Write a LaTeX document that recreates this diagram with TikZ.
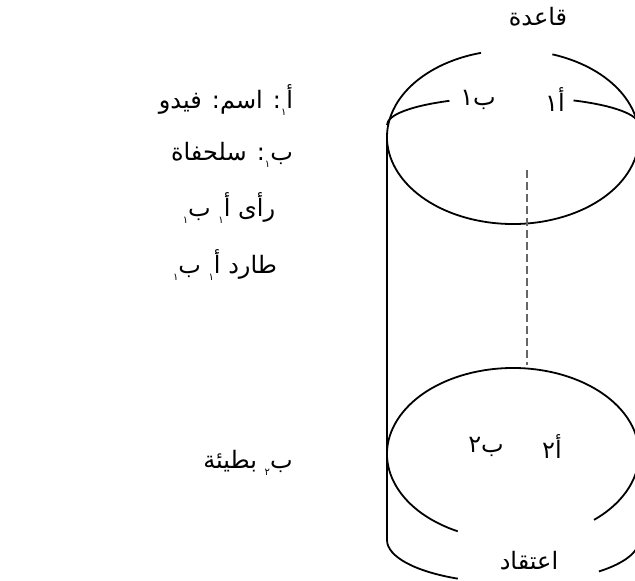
\documentclass[tikz,border=0pt]{standalone}
\usepackage{fontspec}
\newfontfamily\arabicfont[Script=Arabic]{DejaVu Sans}
\TeXXeTstate=1
\newcommand\arsub[1]{\raisebox{-0.5ex}{\fontsize{10}{10}\selectfont #1}}
\begin{document}
\begin{tikzpicture}[x=1pt,y=-1pt,
  curve/.style={line width=1.8pt, black},
  dashline/.style={line width=1.7pt, black!60, dash pattern=on 8pt off 4pt},
  artext/.style={font=\arabicfont\fontsize{24}{28}\selectfont, inner sep=0pt},
  ]
\useasboundingbox (0,0) rectangle (635,581);
\clip (0,0) rectangle (635,581);
\coordinate (topc) at (513,137);
\coordinate (innc) at (513,125);
\coordinate (botc) at (513,454);
\coordinate (basec) at (513,540);
\coordinate (vtop) at (387,137);
\coordinate (vbot) at (387,540);
\coordinate (dtop) at (527,170);
\coordinate (dbot) at (527,365);

% top face
\draw[curve] (topc) ++(-71.8:126 and 87) arc[start angle=-71.8,end angle=255.3,x radius=126,y radius=87];
\draw[curve] (innc) ++(180:126 and 28) arc[start angle=180,end angle=239.7,x radius=126,y radius=28];
\draw[curve] (innc) ++(298.7:126 and 28) arc[start angle=298.7,end angle=360,x radius=126,y radius=28];
% lower ellipse
\draw[curve] (botc) ++(116:126 and 86) arc[start angle=116,end angle=410,x radius=126,y radius=86];
% side and base
\draw[curve] (vtop) -- (vbot) arc[start angle=180,end angle=116,x radius=126,y radius=43];
\draw[curve] (basec) ++(47:126 and 43) arc[start angle=47,end angle=0,x radius=126,y radius=43];
% dashed link
\draw[dashline] (dtop) -- (dbot);

% labels in the cylinder
\node[artext] (qaida) at (538,17) {\beginR قاعدة\endR};
\node[artext] (itiqad) at (529,561) {\beginR اعتقاد\endR};
\node[artext] (a1) at (555,100) {\beginR أ١\endR};
\node[artext] (b1) at (478,100) {\beginR ب١\endR};
\node[artext] (a2) at (552,447) {\beginR أ٢\endR};
\node[artext] (b2) at (486,447) {\beginR ب٢\endR};

% left column
\node[artext] (l1) at (226,100) {\beginR أ\arsub{١}: اسم: فيدو\endR};
\node[artext] (l2) at (232,155) {\beginR ب\arsub{١}: سلحفاة\endR};
\node[artext] (l3) at (229,208) {\beginR رأى أ\arsub{١} ب\arsub{١}\endR};
\node[artext] (l4) at (225,265) {\beginR طارد أ\arsub{١} ب\arsub{١}\endR};
\node[artext] (l5) at (248,463) {\beginR ب\arsub{٢} بطيئة\endR};
\end{tikzpicture}
\end{document}
